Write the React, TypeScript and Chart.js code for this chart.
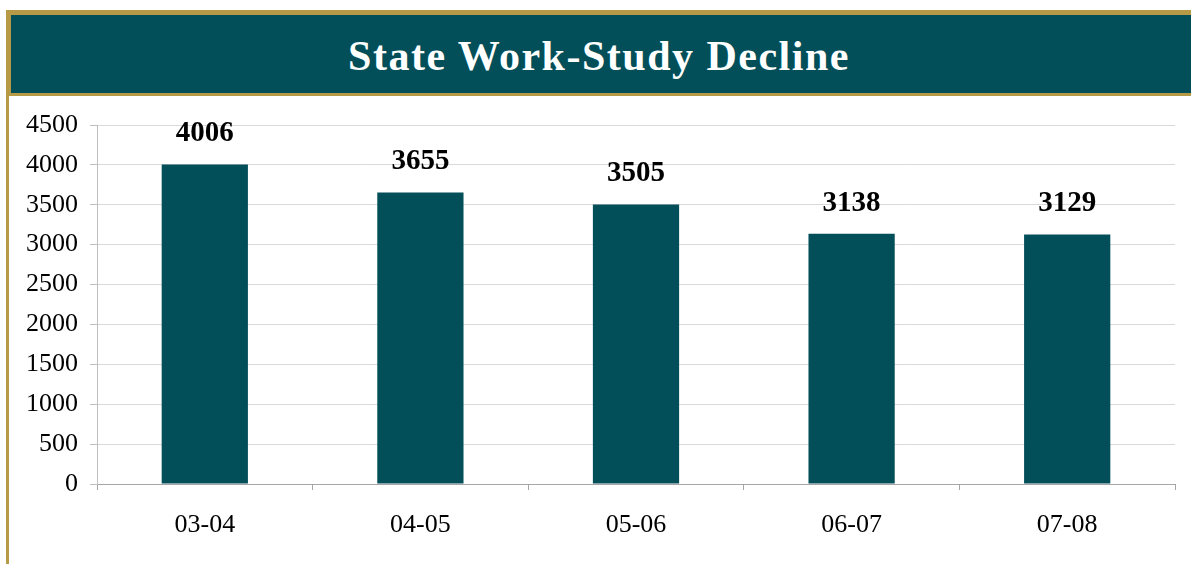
import React, { useEffect, useRef } from "react";
import { Chart, registerables } from "chart.js";

Chart.register(...registerables);

const title = "State Work-Study Decline";
const categories = ["03-04", "04-05", "05-06", "06-07", "07-08"];
const values = [4006, 3655, 3505, 3138, 3129];
const yMin = 0;
const yMax = 4500;
const yStep = 500;

const TEAL = "#024f5a";
const GOLD = "#b69a45";
const SERIF = "'Liberation Serif', 'Times New Roman', serif";

const valueLabels = {
  id: "valueLabels",
  afterDatasetsDraw(chart: any) {
    const ctx = chart.ctx;
    const meta = chart.getDatasetMeta(0);
    ctx.save();
    ctx.font = `bold 29px ${SERIF}`;
    ctx.fillStyle = "#000";
    ctx.textAlign = "center";
    ctx.textBaseline = "alphabetic";
    meta.data.forEach((bar: any, i: number) => {
      ctx.fillText(String(values[i]), bar.x, bar.y - 23);
    });
    ctx.restore();
  },
};

export default function App() {
  const ref = useRef<HTMLCanvasElement | null>(null);

  useEffect(() => {
    if (!ref.current) return;
    const chart = new Chart(ref.current, {
      type: "bar",
      data: {
        labels: categories,
        datasets: [
          {
            data: values,
            backgroundColor: TEAL,
            borderWidth: 0,
            categoryPercentage: 1,
            barPercentage: 0.4,
          },
        ],
      },
      options: {
        animation: false,
        responsive: false,
        devicePixelRatio: 1,
        layout: { padding: { top: 29, right: 16, left: 0, bottom: 0 } },
        plugins: {
          legend: { display: false },
          title: { display: false },
          tooltip: { enabled: false },
        },
        scales: {
          x: {
            offset: true,
            grid: {
              display: true,
              offset: true,
              drawOnChartArea: false,
              drawTicks: true,
              tickLength: 6,
              color: "#a6a6a6",
              tickColor: "#a6a6a6",
            },
            border: { display: true, color: "#a6a6a6", width: 1 },
            ticks: {
              color: "#000",
              font: { family: SERIF, size: 26 },
              padding: 20,
              maxRotation: 0,
            },
            afterFit: (scale: any) => {
              scale.height = 80;
            },
          },
          y: {
            min: yMin,
            max: yMax,
            grid: {
              color: (c: any) => (c.tick && c.tick.value === 0 ? "#a6a6a6" : "#d9d9d9"),
              tickColor: "#bfbfbf",
              drawTicks: true,
              tickLength: 7,
            },
            border: { display: true, color: "#bfbfbf", width: 1 },
            ticks: {
              stepSize: yStep,
              color: "#000",
              font: { family: SERIF, size: 26 },
              padding: 12,
              callback: (v: any) => String(v),
            },
            afterFit: (scale: any) => {
              scale.width = 97;
            },
          },
        },
      },
      plugins: [valueLabels],
    });
    return () => chart.destroy();
  }, []);

  return (
    <div
      style={{
        position: "fixed",
        left: 0,
        top: 0,
        width: 1191,
        height: 564,
        background: "#fff",
        overflow: "hidden",
      }}
    >
      <canvas
        ref={ref}
        width={1191}
        height={468}
        style={{ position: "absolute", left: 0, top: 96, width: 1191, height: 468 }}
      />
      <div
        style={{
          position: "absolute",
          left: 6,
          top: 10,
          right: 0,
          height: 78,
          background: TEAL,
          borderTop: `5px solid ${GOLD}`,
          borderLeft: `5px solid ${GOLD}`,
          borderBottom: `3px solid ${GOLD}`,
          display: "flex",
          alignItems: "center",
          justifyContent: "center",
          boxSizing: "content-box",
        }}
      >
        <div
          style={{
            color: "#fff",
            fontFamily: SERIF,
            fontWeight: "bold",
            fontSize: 42,
            letterSpacing: 1.5,
            marginLeft: -4,
            marginTop: 4,
            whiteSpace: "nowrap",
          }}
        >
          {title}
        </div>
      </div>
      <div
        style={{
          position: "absolute",
          left: 6,
          top: 96,
          width: 3,
          bottom: 0,
          background: GOLD,
        }}
      />
    </div>
  );
}
